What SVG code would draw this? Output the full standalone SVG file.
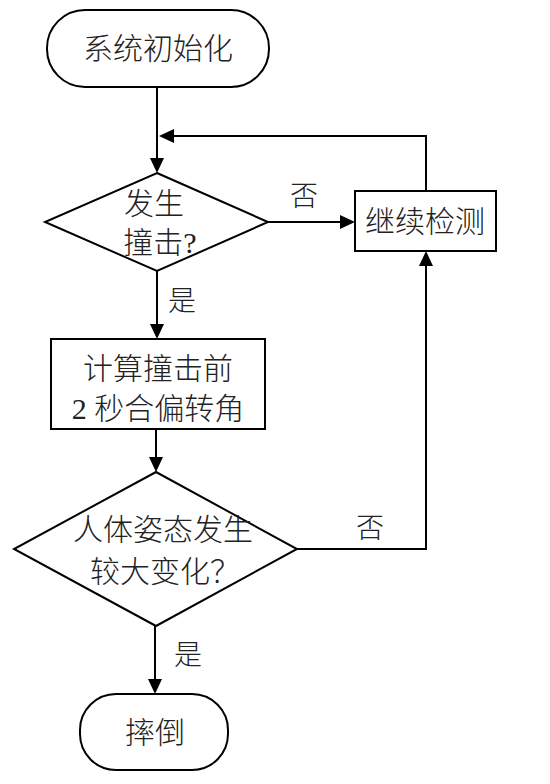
<svg xmlns="http://www.w3.org/2000/svg" width="550" height="784" viewBox="0 0 550 784">
<defs>
<style>
.s{fill:#fff;stroke:#000;stroke-width:2}
.t{font-family:"Liberation Serif","Noto Sans CJK SC",serif;font-size:30px;font-weight:300;fill:#222;text-anchor:middle}
.lb{font-size:28px}
.l{fill:none;stroke:#000;stroke-width:2}
.a{fill:#000}
</style>
</defs>
<rect width="550" height="784" fill="#fff"/>
<g id="connectors">
<path class="l" d="M157,87 V160"/>
<path class="a" d="M157,173 L150,158 L164,158 Z"/>
<path class="l" d="M426,191 V136 H172"/>
<path class="a" d="M159,136 L174,129 L174,143 Z"/>
<path class="l" d="M268,222 H342"/>
<path class="a" d="M355,222 L340,215 L340,229 Z"/>
<path class="l" d="M157,271 V326"/>
<path class="a" d="M157,339 L150,324 L164,324 Z"/>
<path class="l" d="M156,429 V460"/>
<path class="a" d="M156,472 L149,457 L163,457 Z"/>
<path class="l" d="M297,549 H426 V264"/>
<path class="a" d="M426,251 L419,266 L433,266 Z"/>
<path class="l" d="M155,626 V681"/>
<path class="a" d="M155,694 L148,679 L162,679 Z"/>
<text class="t lb" x="304" y="206">否</text>
<text class="t lb" x="182" y="311">是</text>
<text class="t lb" x="370" y="538">否</text>
<text class="t lb" x="188" y="665">是</text>
</g>
<g id="start">
<rect class="s" x="47" y="10" width="222" height="77" rx="38" ry="38"/>
<text class="t" x="158" y="59">系统初始化</text>
</g>
<g id="decision1">
<polygon class="s" points="157,173 268,222 157,271 45,222"/>
<text class="t" x="154" y="214">发生</text>
<text class="t" x="160" y="253">撞击?</text>
</g>
<g id="continue">
<rect class="s" x="355" y="191" width="141" height="60"/>
<text class="t" x="425" y="232">继续检测</text>
</g>
<g id="compute">
<rect class="s" x="51" y="339" width="214" height="90"/>
<text class="t" x="158" y="379">计算撞击前</text>
<text class="t" x="158" y="419">2 秒合偏转角</text>
</g>
<g id="decision2">
<polygon class="s" points="156,472 297,549 156,626 14,549"/>
<text class="t" x="163" y="540">人体姿态发生</text>
<text class="t" x="165" y="582">较大变化？</text>
</g>
<g id="fall">
<rect class="s" x="80" y="694" width="148" height="76" rx="36" ry="36"/>
<text class="t" x="155" y="743">摔倒</text>
</g>
</svg>
